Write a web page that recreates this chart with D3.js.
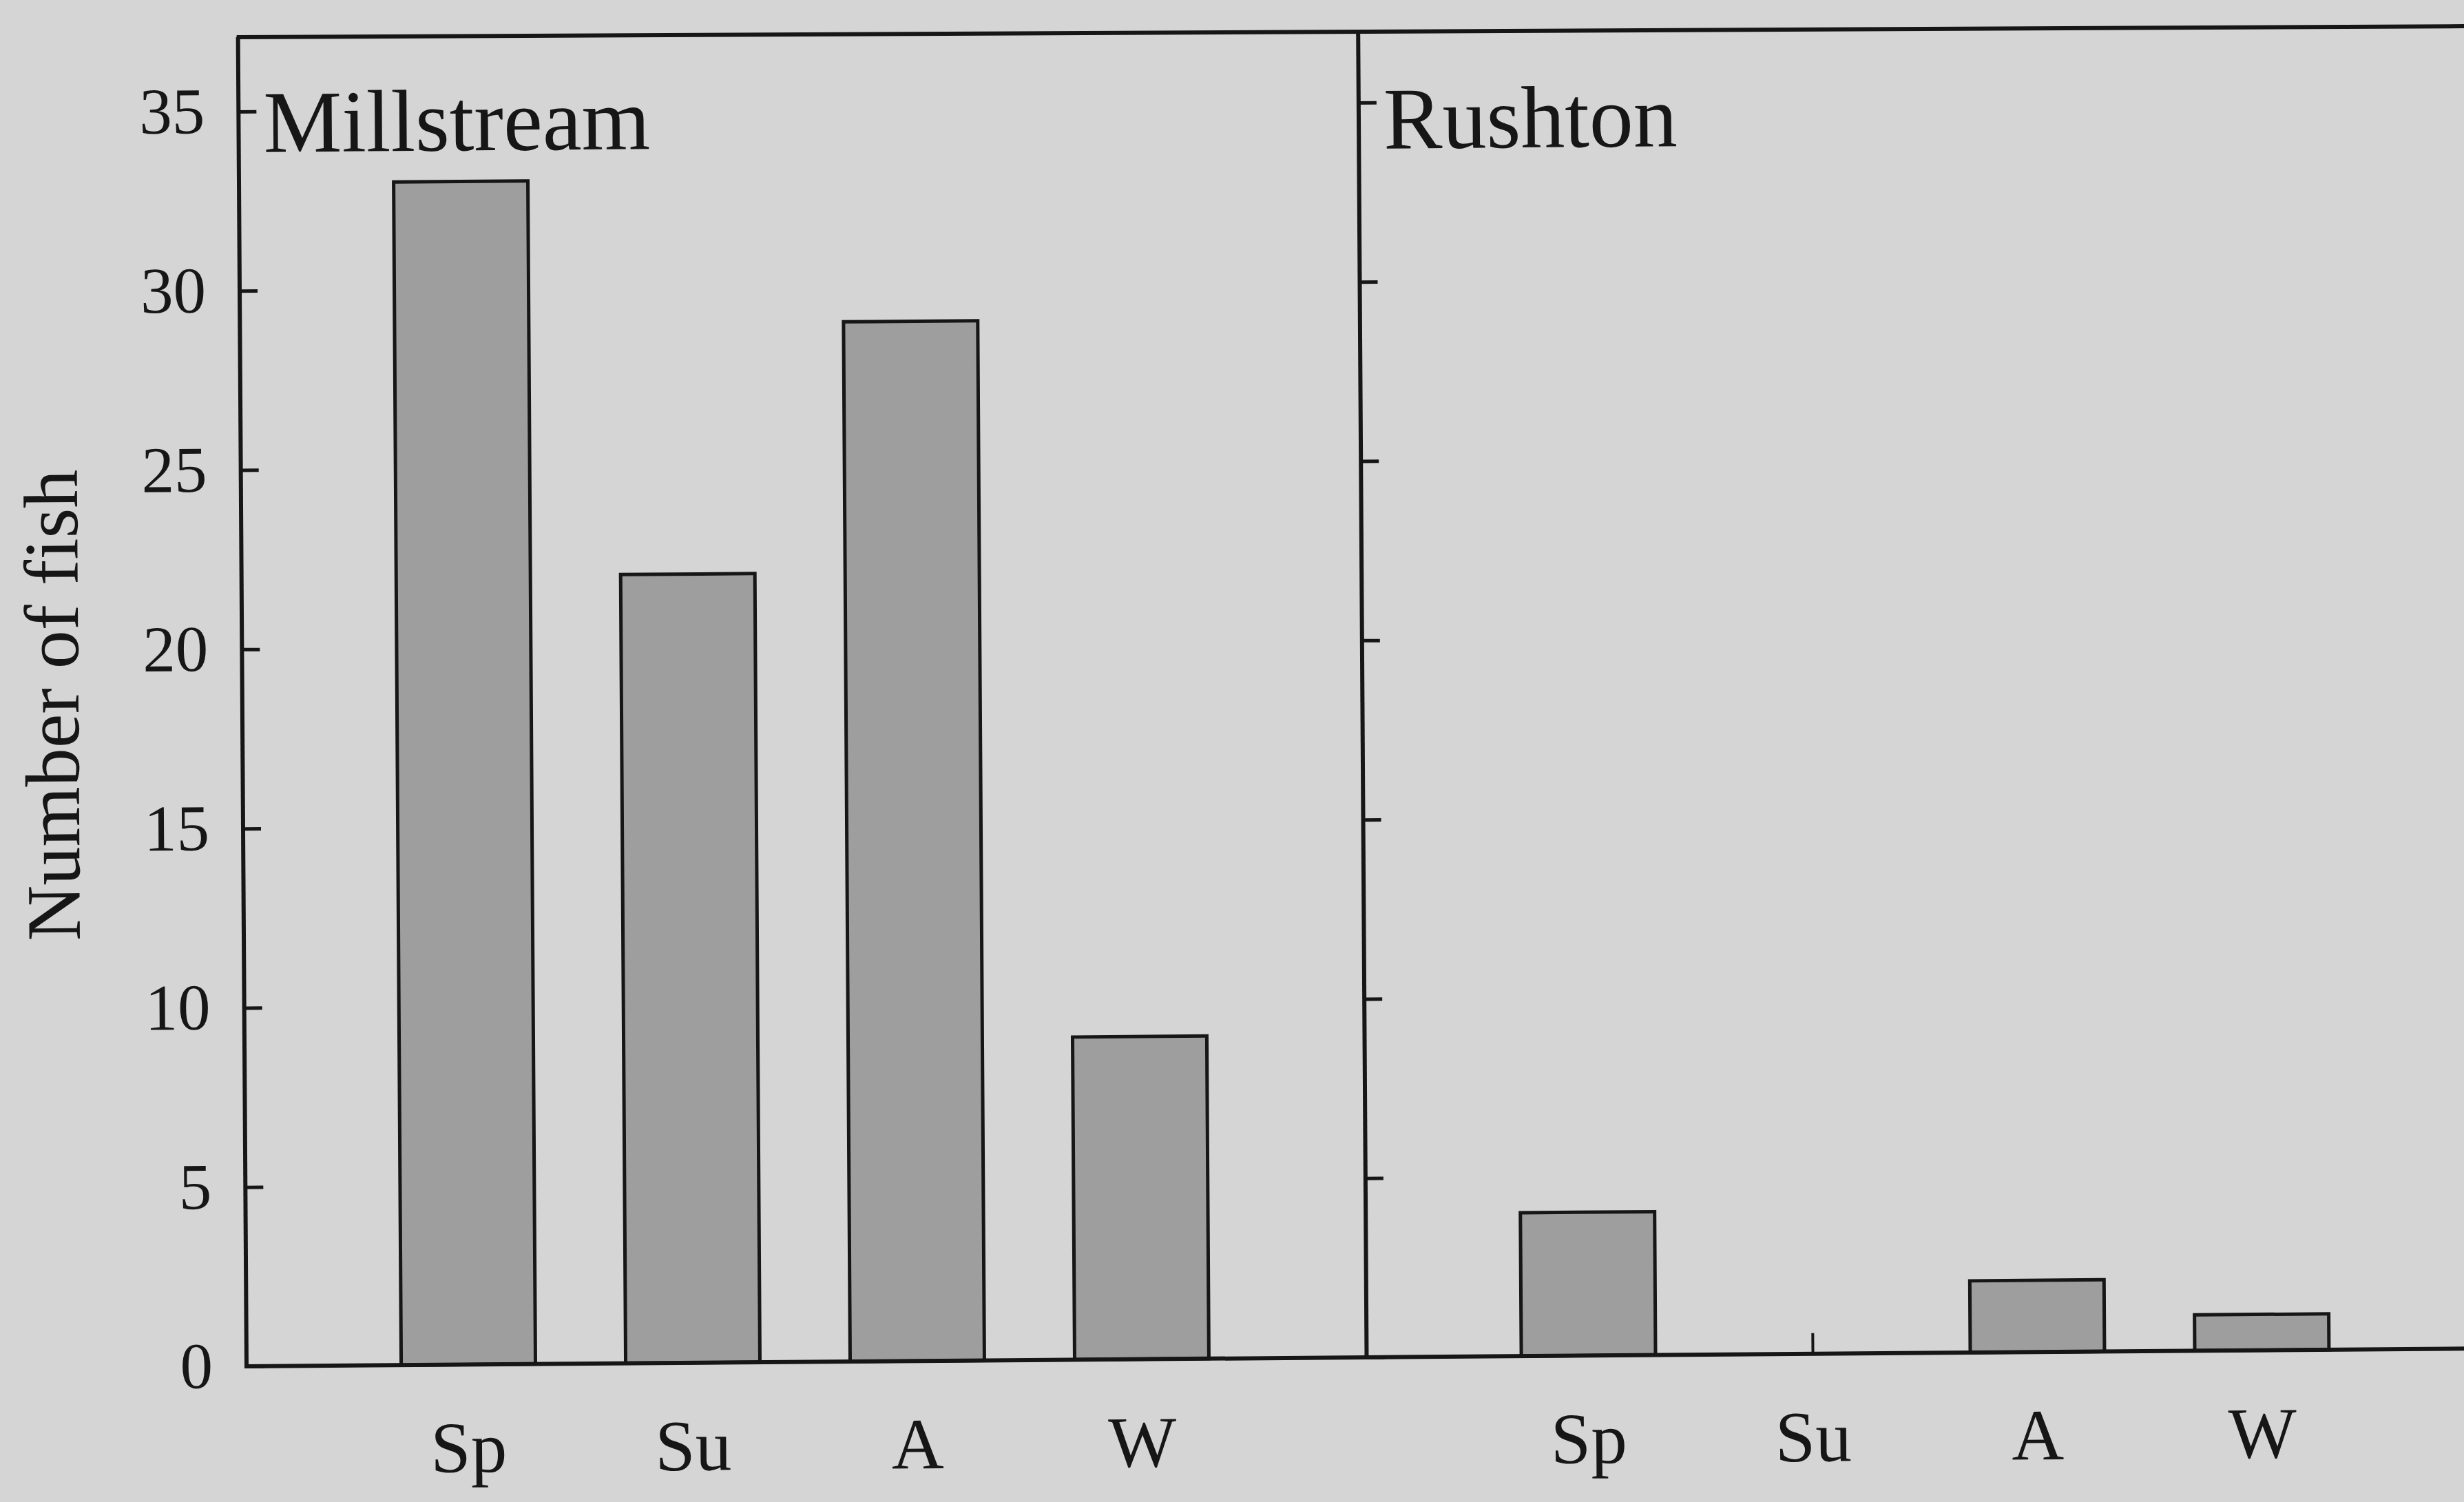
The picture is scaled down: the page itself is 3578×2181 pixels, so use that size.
<!DOCTYPE html>
<html>
<head>
<meta charset="utf-8">
<script src="https://cdn.jsdelivr.net/npm/d3@7"></script>
<style>
  html, body { margin: 0; padding: 0; background: #d5d5d5; }
  svg { display: block; }
</style>
</head>
<body>
<script>
// Seasonal fish counts at two sites
const seasons = ["Sp", "Su", "A", "W"];
const sites = ["Millstream", "Rushton"];
const millstreamCounts = [33, 22, 29, 9];
const rushtonCounts = [4, 0, 2, 1];
const yTickValues = [0, 5, 10, 15, 20, 25, 30, 35];
const yLabel = "Number of fish";

const W = 3578, H = 2181;
const ink = "#161616";
const barFill = "#9e9e9e";
const font = "'Liberation Serif', 'Times New Roman', serif";

// panel geometry
const baseY = 1984, topValueY = 162, frameTopY = [54, 64];
const panelLeft = [358, 1984.5];
const panelWidth = 1626;
const titleY = [221, 229];

const svg = d3.select("body").append("svg")
  .attr("width", W).attr("height", H);

svg.append("rect").attr("width", W).attr("height", H).attr("fill", "#d5d5d5");

// the printed figure sits very slightly askew on the page
const pivot = [358, 1984];
const g = svg.append("g")
  .attr("transform",
    `translate(${pivot[0]},${pivot[1]}) matrix(1,-0.008,0.0064,1,0,0) translate(${-pivot[0]},${-pivot[1]})`);

const y = d3.scaleLinear().domain([0, 35]).range([baseY, topValueY]);

// frame line across the top of both panels
g.append("line")
  .attr("x1", panelLeft[0] - 2).attr("x2", panelLeft[1] + panelWidth)
  .attr("y1", frameTopY[0]).attr("y2", frameTopY[1])
  .attr("stroke", ink).attr("stroke-width", 6);

const panels = [
  { name: sites[0], counts: millstreamCounts, x0: panelLeft[0], labels: true },
  { name: sites[1], counts: rushtonCounts, x0: panelLeft[1], labels: false }
];

panels.forEach((p, i) => {
  const x = d3.scaleBand()
    .domain(seasons)
    .range([p.x0, p.x0 + 1622])
    .paddingInner(0.402)
    .paddingOuter(0.689);

  const pg = g.append("g");

  // bars
  const data = seasons.map((s, k) => ({ season: s, value: p.counts[k] }));
  pg.selectAll("rect.bar").data(data).join("rect")
    .attr("class", "bar")
    .attr("x", d => x(d.season))
    .attr("y", d => y(d.value))
    .attr("width", x.bandwidth())
    .attr("height", d => y(0) - y(d.value))
    .attr("fill", barFill)
    .attr("stroke", ink)
    .attr("stroke-width", 5);

  // zero-count seasons get a short upright mark on the baseline
  pg.selectAll("line.zero").data(data.filter(d => d.value === 0)).join("line")
    .attr("class", "zero")
    .attr("x1", d => x(d.season) + x.bandwidth() / 2)
    .attr("x2", d => x(d.season) + x.bandwidth() / 2)
    .attr("y1", y(0)).attr("y2", y(0) - 30)
    .attr("stroke", ink).attr("stroke-width", 4);

  // baseline
  pg.append("line")
    .attr("x1", p.x0 - 3).attr("x2", p.x0 + panelWidth)
    .attr("y1", baseY).attr("y2", baseY)
    .attr("stroke", ink).attr("stroke-width", 6);

  // y axis with inward ticks
  const axis = d3.axisLeft(y)
    .tickValues(yTickValues)
    .tickSizeInner(-26)
    .tickSizeOuter(0)
    .tickPadding(49)
    .tickFormat(p.labels ? d3.format("d") : () => "");
  const ax = pg.append("g").attr("transform", `translate(${p.x0},0)`).call(axis);
  ax.select(".domain").remove();
  ax.selectAll(".tick line").attr("stroke", ink).attr("stroke-width", 5);
  ax.selectAll(".tick text")
    .attr("fill", ink)
    .style("font-family", font)
    .style("font-size", "95px");

  // vertical axis line running up to the frame top
  pg.append("line")
    .attr("x1", p.x0).attr("x2", p.x0)
    .attr("y1", frameTopY[0] + (frameTopY[1] - frameTopY[0]) * (p.x0 - panelLeft[0]) / (panelLeft[1] + panelWidth - panelLeft[0]))
    .attr("y2", baseY + 3)
    .attr("stroke", ink).attr("stroke-width", 6);

  // season labels
  pg.selectAll("text.season").data(seasons).join("text")
    .attr("class", "season")
    .attr("x", d => x(d) + x.bandwidth() / 2)
    .attr("y", 2140)
    .attr("text-anchor", "middle")
    .attr("fill", ink)
    .style("font-family", font)
    .style("font-size", "105px")
    .text(d => d);

  // site name
  pg.append("text")
    .attr("x", p.x0 + 36)
    .attr("y", titleY[i])
    .attr("fill", ink)
    .style("font-family", font)
    .style("font-size", "128px")
    .text(p.name);
});

// y axis title
g.append("text")
  .attr("transform", "translate(120,1022) rotate(-90)")
  .attr("text-anchor", "middle")
  .attr("fill", ink)
  .style("font-family", font)
  .style("font-size", "112px")
  .text(yLabel);
</script>
</body>
</html>
